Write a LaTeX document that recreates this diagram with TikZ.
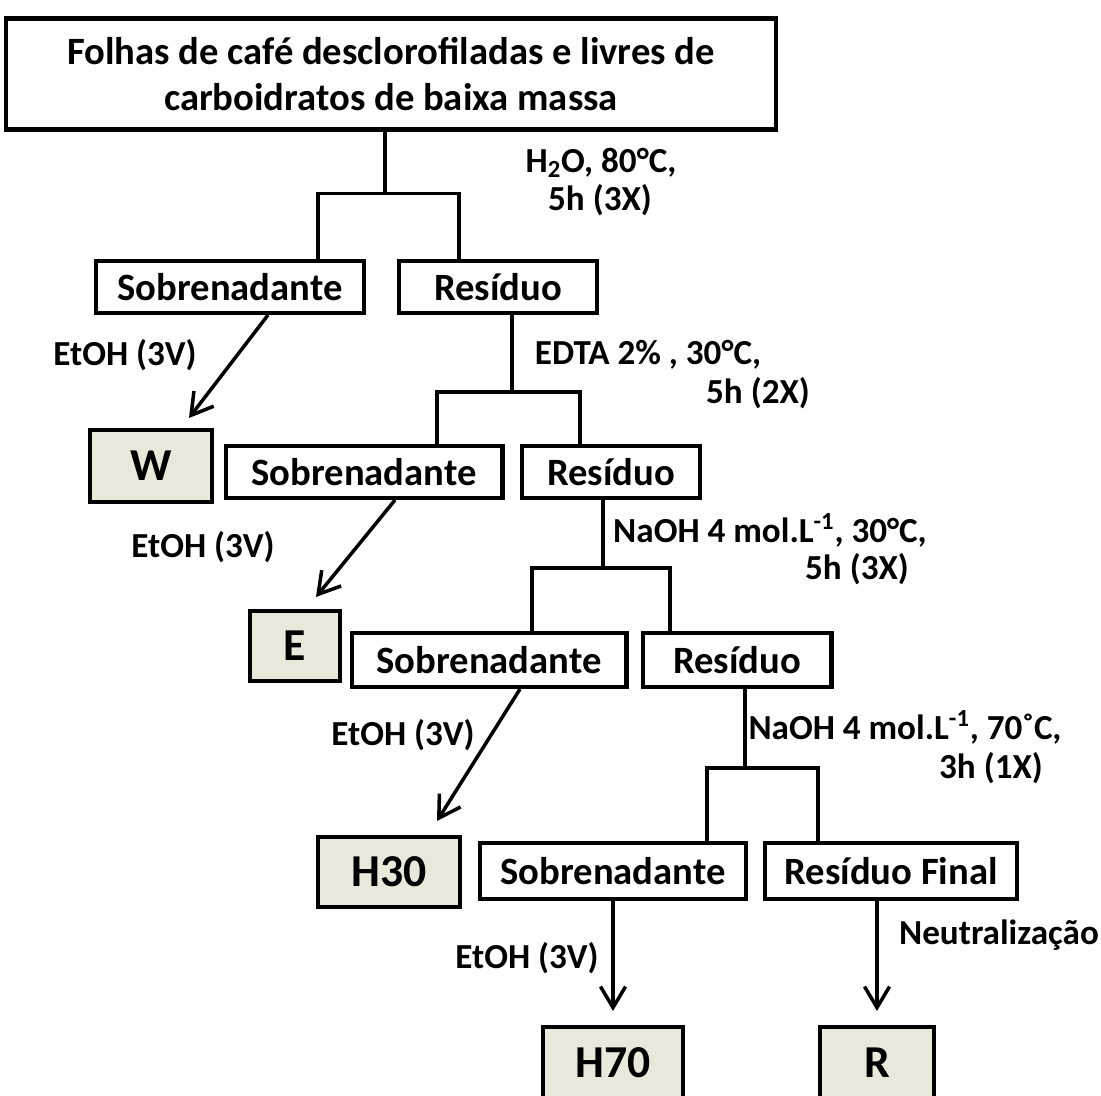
\documentclass[tikz,border=0pt]{standalone}
\usepackage{fontspec}
\setmainfont{Carlito}
\usetikzlibrary{arrows.meta}
\definecolor{fracao}{RGB}{234,231,219}

\begin{document}
\begin{tikzpicture}[x=0.02cm,y=-0.02cm,
	caixa/.style={draw, line width=2.3pt, fill=white, inner sep=0pt, font=\bfseries\fontsize{22pt}{26pt}\selectfont},
	fracao/.style={caixa, fill=fracao, font=\bfseries\fontsize{26pt}{30pt}\selectfont},
	cond/.style={font=\bfseries\fontsize{20pt}{24pt}\selectfont, inner sep=0pt},
	link/.style={line width=2pt},
	seta/.style={line width=2pt, -{Straight Barb[length=0.42cm,width=0.5cm,line width=2pt]}}]
	\clip (0,0) rectangle (1101,1095);
	
	% caixas
	\node[caixa, minimum width=15.4cm, minimum height=2.22cm, align=center] (top) at (391,74) {Folhas de café desclorofiladas e livres de\\carboidratos de baixa massa};
	\node[caixa, minimum width=5.36cm, minimum height=1.04cm] (sob1) at (230,287) {Sobrenadante};
	\node[caixa, minimum width=3.96cm, minimum height=1.04cm] (res1) at (498,287) {Resíduo};
	\node[fracao, minimum width=2.44cm, minimum height=1.44cm] (w) at (151,466) {W};
	\node[caixa, minimum width=5.54cm, minimum height=1.04cm] (sob2) at (364,472) {Sobrenadante};
	\node[caixa, minimum width=3.56cm, minimum height=1.04cm] (res2) at (611,472) {Resíduo};
	\node[fracao, minimum width=1.8cm, minimum height=1.4cm] (e) at (295,646) {E};
	\node[caixa, minimum width=5.5cm, minimum height=1.08cm] (sob3) at (489,660) {Sobrenadante};
	\node[caixa, minimum width=3.78cm, minimum height=1.08cm] (res3) at (737,660) {Resíduo};
	\node[fracao, minimum width=2.84cm, minimum height=1.4cm] (h30) at (389,872) {H30};
	\node[caixa, minimum width=5.32cm, minimum height=1.12cm] (sob4) at (613,871) {Sobrenadante};
	\node[caixa, minimum width=5.04cm, minimum height=1.12cm] (resf) at (891,871) {Resíduo Final};
	\node[fracao, minimum width=2.8cm, minimum height=1.44cm] (h70) at (613,1063) {H70};
	\node[fracao, minimum width=2.28cm, minimum height=1.44cm] (r) at (877,1063) {R};
	
	% condicoes
	\node[cond] (c1a) at (601,163) {H\textsubscript{2}O, 80°C,};
	\node[cond] (c1b) at (600,200) {5h (3X)};
	\node[cond] (et1) at (125,355) {EtOH (3V)};
	\node[cond] (c2a) at (648,355) {EDTA 2\% , 30°C,};
	\node[cond] (c2b) at (758,393) {5h (2X)};
	\node[cond] (et2) at (203,547) {EtOH (3V)};
	\node[cond] (c3a) at (770,530) {NaOH 4 mol.L\textsuperscript{-1}, 30°C,};
	\node[cond] (c3b) at (857,569) {5h (3X)};
	\node[cond] (et3) at (403,735) {EtOH (3V)};
	\node[cond] (c4a) at (905,727) {NaOH 4 mol.L\textsuperscript{-1}, 70˚C,};
	\node[cond] (c4b) at (991,768) {3h (1X)};
	\node[cond] (neu) at (999,935) {Neutralização};
	\node[cond] (et4) at (527,958) {EtOH (3V)};
	
	% ramificacoes
	\draw[link] ([xshift=-0.12cm]top.south) -- ++(0,62) coordinate (j1);
	\draw[link] ([xshift=1.76cm]sob1.north) |- (j1) -| ([xshift=-0.78cm]res1.north);
	\draw[link] ([xshift=0.28cm]res1.south) -- ++(0,77) coordinate (j2);
	\draw[link] ([xshift=1.46cm]sob2.north) |- (j2) -| ([xshift=-0.62cm]res2.north);
	\draw[link] ([xshift=-0.16cm]res2.south) -- ++(0,68) coordinate (j3);
	\draw[link] ([xshift=0.86cm]sob3.north) |- (j3) -| ([xshift=-1.34cm]res3.north);
	\draw[link] ([xshift=0.16cm]res3.south) -- ++(0,79) coordinate (j4);
	\draw[link] ([xshift=1.88cm]sob4.north) |- (j4) -| ([xshift=-1.46cm]resf.north);
	
	% setas
	\draw[seta] ([xshift=0.76cm]sob1.south) -- ([xshift=0.76cm,yshift=0.2cm]w.north);
	\draw[seta] ([xshift=0.62cm]sob2.south) -- ([xshift=0.42cm,yshift=0.24cm]e.north);
	\draw[seta] ([xshift=0.62cm]sob3.south) -- ([xshift=0.96cm,yshift=0.28cm]h30.north);
	\draw[seta] (sob4.south) -- ([yshift=0.28cm]h70.north);
	\draw[seta] (resf.south -| r.north) -- ([yshift=0.28cm]r.north);
	
\end{tikzpicture}
\end{document}
